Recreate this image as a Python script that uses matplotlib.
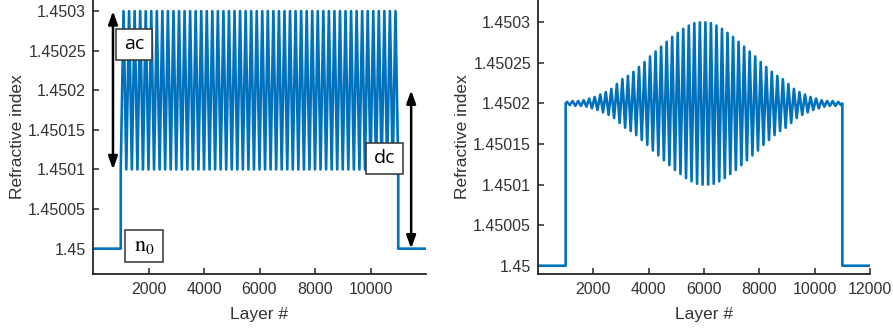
import matplotlib
matplotlib.use("Agg")
import matplotlib.pyplot as plt
from matplotlib.patches import Rectangle
import numpy as np

plt.rcParams['font.family'] = ['Liberation Sans', 'DejaVu Sans']
plt.rcParams['mathtext.fontset'] = 'stix'

# ---------------- data ----------------
n0 = 1.45                 # background index
grating_start = 1000      # first grating layer
grating_end = 11000       # last grating layer
period = 200              # layers per grating period
layer_max = 12000

left_dc = 1.4502
# ac amplitude per period (units of 1e-4), uniform grating
left_ac = [1.0] * 50

right_dc = 1.4502
# ac amplitude per period (units of 1e-4), apodized grating
right_ac_half = [0.02, 0.03, 0.03, 0.04, 0.06, 0.08, 0.11, 0.14, 0.18, 0.24,
                 0.30, 0.34, 0.39, 0.45, 0.51, 0.58, 0.64, 0.70, 0.76, 0.82,
                 0.87, 0.92, 0.96, 0.99, 1.00]
right_ac = right_ac_half + right_ac_half[::-1]

left_xticks = [2000, 4000, 6000, 8000, 10000]
right_xticks = [2000, 4000, 6000, 8000, 10000, 12000]
yticks = [1.45, 1.45005, 1.4501, 1.45015, 1.4502, 1.45025, 1.4503]
ytick_labels = ['1.45', '1.45005', '1.4501', '1.45015', '1.4502', '1.45025', '1.4503']

BLUE = '#0072BD'
TXT = '#262626'


def left_profile():
    xs = [0, grating_start]
    ys = [n0, n0]
    for i, a in enumerate(left_ac):
        z0 = grating_start + i * period
        xs += [z0, z0 + period / 2]
        ys += [left_dc - a * 1e-4, left_dc + a * 1e-4]
    xs += [grating_end, grating_end, layer_max]
    ys += [left_dc - left_ac[-1] * 1e-4, n0, n0]
    return xs, ys


def right_profile():
    xs = [0, grating_start, grating_start]
    ys = [n0, n0, right_dc]
    for i, a in enumerate(right_ac):
        z0 = grating_start + i * period
        xs += [z0 + period / 4, z0 + 3 * period / 4]
        ys += [right_dc + a * 1e-4, right_dc - a * 1e-4]
    xs += [grating_end, grating_end, layer_max]
    ys += [right_dc, n0, n0]
    return xs, ys


fig = plt.figure(figsize=(8.93, 3.29), dpi=100)
axL = fig.add_axes([93 / 893, 55 / 329, 333 / 893, 274 / 329])
axR = fig.add_axes([538 / 893, 55 / 329, 332 / 893, 274 / 329])


def style(ax, xticks, ylim):
    ax.set_xlim(0, layer_max)
    ax.set_ylim(*ylim)
    ax.set_xticks(xticks)
    ax.set_xticklabels([str(t) for t in xticks])
    ax.set_yticks(yticks)
    ax.set_yticklabels(ytick_labels)
    for s in ['top', 'right']:
        ax.spines[s].set_visible(False)
    for s in ['left', 'bottom']:
        ax.spines[s].set_linewidth(1.3)
        ax.spines[s].set_color(TXT)
    ax.tick_params(direction='in', length=4, width=1.1, color=TXT,
                   labelcolor='#333333', labelsize=11.5)
    ax.tick_params(axis='x', pad=6)
    ax.tick_params(axis='y', pad=5)
    ax.set_xlabel('Layer #', fontsize=12.5, color='#333333', labelpad=7)
    ax.set_ylabel('Refractive index', fontsize=12.5, color='#333333', labelpad=2)


x, y = left_profile()
axL.plot(x, y, color=BLUE, lw=1.9, solid_joinstyle='round')
style(axL, left_xticks, (1.449968, 1.450314))

x, y = right_profile()
axR.plot(x, y, color=BLUE, lw=1.9, solid_joinstyle='round')
style(axR, right_xticks, (1.4499898, 1.4503275))

# arrows in left panel
arr = dict(arrowstyle='<|-|>,head_length=0.7,head_width=0.25', lw=1.8,
           color='black', mutation_scale=11, shrinkA=0, shrinkB=0)
axL.annotate('', xy=(720, 1.4503), xytext=(720, 1.4501), arrowprops=arr)
axL.annotate('', xy=(11465, 1.4502), xytext=(11465, n0), arrowprops=arr)

# label boxes (figure pixel coordinates from top-left)
def box(x0, y0, x1, y1, label, **kw):
    fig.patches.append(Rectangle((x0 / 893, 1 - y1 / 329), (x1 - x0) / 893,
                                 (y1 - y0) / 329, transform=fig.transFigure,
                                 facecolor='white', edgecolor='#333333',
                                 lw=1.1, zorder=5))
    fig.text((x0 + x1) / 2 / 893, 1 - (y0 + y1) / 2 / 329, label,
             ha='center', va='center', zorder=6, color='black', **kw)


box(115.7, 28.7, 152.3, 60, 'ac', fontsize=14, family=['Open Sans', 'DejaVu Sans'])
box(365.7, 142.7, 403.3, 174, 'dc', fontsize=14, family=['Open Sans', 'DejaVu Sans'])
box(125.3, 230, 163, 261.7, r'$\mathrm{n}_{0}$', fontsize=16)

fig.savefig('out.png', dpi=100)
